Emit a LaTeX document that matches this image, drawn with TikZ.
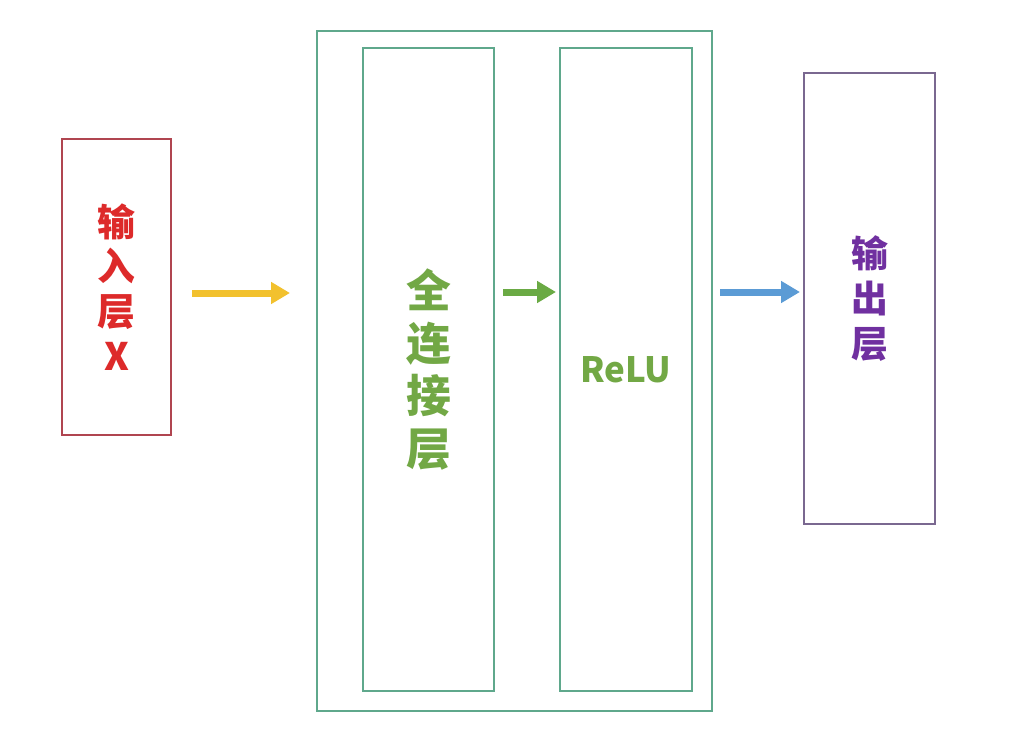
\documentclass[tikz,border=0pt]{standalone}
\usepackage{fontspec}
\newfontfamily\cjk{Noto Sans CJK SC}
\usetikzlibrary{arrows.meta}
\definecolor{redline}{HTML}{B04550}
\definecolor{redtext}{HTML}{DD2A2A}
\definecolor{greenline}{HTML}{5FA88C}
\definecolor{greentext}{HTML}{72A845}
\definecolor{purpleline}{HTML}{7A6890}
\definecolor{purpletext}{HTML}{7030A0}
\definecolor{yellowarr}{HTML}{F2C12E}
\definecolor{greenarr}{HTML}{6AAA44}
\definecolor{bluearr}{HTML}{5B9BD5}
\tikzset{
  layerbox/.style={draw, rectangle, line width=2.4bp, inner sep=0pt, outer sep=0pt, align=center, font=\cjk\bfseries},
  arr/.style={line width=7bp, -{Triangle[width=21bp,length=19bp]}},
}
\begin{document}
\begin{tikzpicture}[x=1bp,y=-1bp]
\useasboundingbox[fill=white] (0,0) rectangle (1024,739);
\node[layerbox, draw=redline, text=redtext, minimum width=109bp, minimum height=296bp,
      font=\cjk\bfseries\fontsize{38}{45}\selectfont] (in) at (116.5,287) {输\\入\\层\\X};
\node[layerbox, draw=greenline, minimum width=395bp, minimum height=680bp] (outer) at (514.5,371) {};
\node[layerbox, draw=greenline, text=greentext, minimum width=131bp, minimum height=643bp,
      font=\cjk\bfseries\fontsize{45}{53}\selectfont] (fc) at (428.5,369.5) {全\\连\\接\\层};
\node[layerbox, draw=greenline, text=greentext, minimum width=132bp, minimum height=643bp,
      font=\cjk\bfseries\fontsize{35}{45}\selectfont] (relu) at (626,369.5) {ReLU};
\node[layerbox, draw=purpleline, text=purpletext, minimum width=131bp, minimum height=451bp,
      font=\cjk\bfseries\fontsize{37}{45}\selectfont] (out) at (869.5,298.5) {输\\出\\层};
\coordinate (ya) at (192,293);
\coordinate (yb) at (290,293);
\coordinate (ga) at (503,292);
\coordinate (gb) at (556,292);
\coordinate (ba) at (720,292);
\coordinate (bb) at (800,292);
\draw[arr, yellowarr] (ya) -- (yb);
\draw[arr, greenarr] (ga) -- (gb);
\draw[arr, bluearr] (ba) -- (bb);
\end{tikzpicture}
\end{document}
